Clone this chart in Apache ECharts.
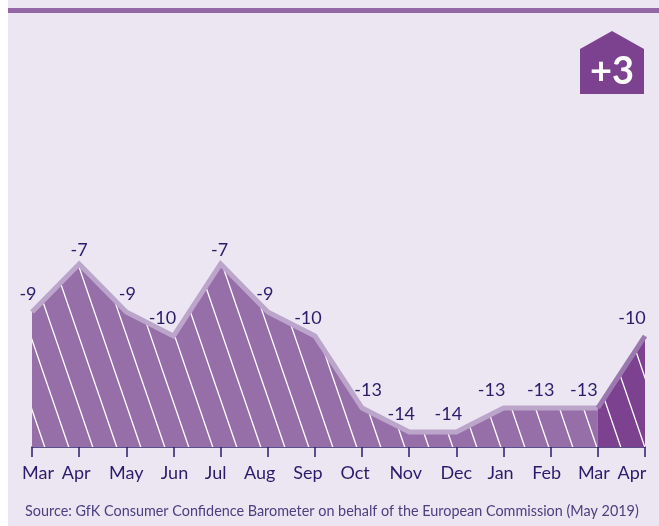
<!DOCTYPE html>
<html><head><meta charset="utf-8">
<style>html,body{margin:0;padding:0;background:#fff}#c{width:659px;height:526px}</style>
<script src="https://cdn.jsdelivr.net/npm/echarts@6/dist/echarts.min.js"></script>
</head><body><div id="c"></div>
<script>
var months = ['Mar','Apr','May','Jun','Jul','Aug','Sep','Oct','Nov','Dec','Jan','Feb','Mar','Apr'];
var values = [-9,-7,-9,-10,-7,-9,-10,-13,-14,-14,-13,-13,-13,-10];
var sourceText = 'Source: GfK Consumer Confidence Barometer on behalf of the European Commission (May 2019)';
var badgeText = '+3';

var FONT = 'Lato';
var NAVY = '#2b1c6b';
var monthShift = [6,-3,0,1,-5,-8,-7,-7,-3.5,0,-3,-4,-4,-13];
var labelShift = [-4,0,1,-11,-1,-3,-7,6,-8,-8,-12,-10,-14,-13];

function hatch(bg){
  var W=24,H=70,c=document.createElement('canvas');c.width=W;c.height=H;
  var g=c.getContext('2d');g.fillStyle=bg;g.fillRect(0,0,W,H);
  g.strokeStyle='#ffffff';g.lineWidth=1.3;
  var x0=11.5;
  for(var k=-2;k<=2;k++){g.beginPath();g.moveTo(x0+k*W,0);g.lineTo(x0+k*W+W,H);g.stroke();}
  return c;
}
var firstPart = values.map(function(v,i){return i<=12?v:null;});
var lastPart = values.map(function(v,i){return i>=12?v:null;});
function lab(i){
  return {show:true,position:'top',distance:6,offset:[labelShift[i],values[i]===-7?1:-3],color:NAVY,fontFamily:FONT,fontSize:18,
    formatter:function(p){return String(p.value);}};
}
var chart = echarts.init(document.getElementById('c'),null,{renderer:'canvas'});
chart.setOption({
  animation:false,
  backgroundColor:'#ffffff',
  grid:{left:32,right:14,top:24,bottom:79,containLabel:false},
  xAxis:{type:'category',boundaryGap:false,
    data:months.map(function(m,i){var s=monthShift[i]*2;
      return {value:m,textStyle:{padding:s>=0?[0,0,0,s]:[0,-s,0,0]}};}),
    axisLine:{onZero:false,lineStyle:{color:NAVY,width:1.5}},
    axisTick:{show:true,alignWithLabel:true,length:10,lineStyle:{color:NAVY,width:1.5}},
    axisLabel:{color:NAVY,fontFamily:FONT,fontSize:18,margin:17,interval:0,hideOverlap:false,showMinLabel:true,showMaxLabel:true}},
  yAxis:{type:'value',min:-14.625,max:3,show:false,splitLine:{show:false}},
  series:[
    {type:'line',data:firstPart,symbol:'none',showSymbol:false,z:3,
     lineStyle:{color:'#bba5ca',width:5,join:'miter'},
     areaStyle:{color:{image:hatch('#966fa9'),repeat:'repeat'},opacity:1,origin:'start'},
     label:{show:false}},
    {type:'line',data:lastPart,symbol:'none',showSymbol:false,z:3,
     lineStyle:{color:'#9c78b0',width:5},
     areaStyle:{color:{image:hatch('#7c418f'),repeat:'repeat'},opacity:1,origin:'start'},
     label:{show:false}},
    {type:'line',data:values.map(function(v,i){return {value:v,label:lab(i)};}),symbol:'circle',symbolSize:0.01,showSymbol:true,z:5,
     lineStyle:{opacity:0},label:{show:true}}
  ],
  graphic:[
    {type:'rect',z:-10,silent:true,shape:{x:8,y:0,width:651,height:526},style:{fill:'#ebe6f1'}},
    {type:'rect',z:-9,silent:true,shape:{x:8,y:8,width:651,height:5},style:{fill:'#9468a6'}},
    {type:'polygon',z:10,silent:true,shape:{points:[[580,49],[612,31],[644,49],[644,94],[580,94]]},style:{fill:'#7c428f'}},
    {type:'text',z:11,silent:true,x:612,y:72,style:{text:badgeText,fill:'#ffffff',font:'bold 38px Lato',align:'center',verticalAlign:'middle'}},
    {type:'text',z:11,silent:true,x:25,y:511,style:{text:sourceText,fill:'#4b4080',font:'14.4px Lato',align:'left',verticalAlign:'middle'}}
  ]
});
</script></body></html>
